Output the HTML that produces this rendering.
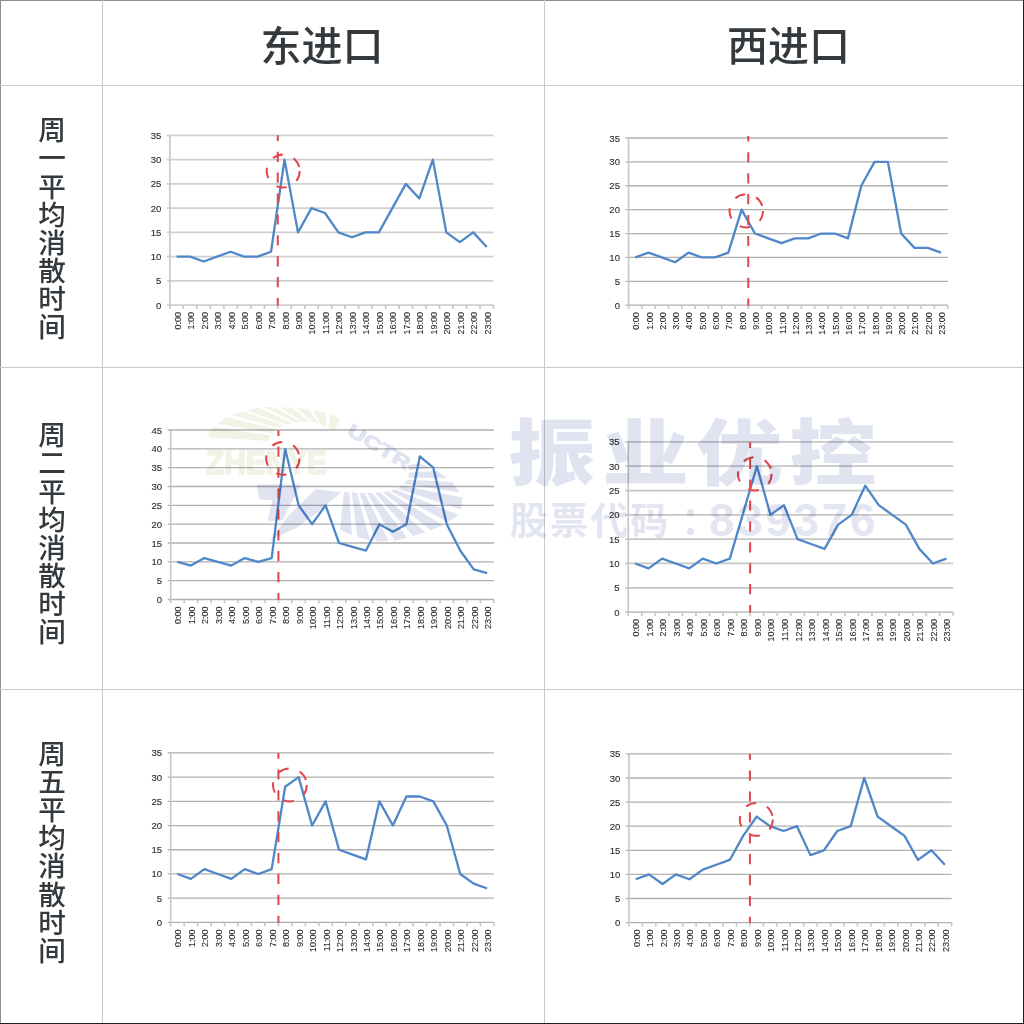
<!DOCTYPE html>
<html><head><meta charset="utf-8">
<style>
html,body{margin:0;padding:0;background:#fff;}
body{width:1024px;height:1024px;position:relative;overflow:hidden;}
.ln{position:absolute;}
.hd{position:absolute;top:18.8px;font-family:"Liberation Sans","Noto Sans CJK SC",sans-serif;font-size:41px;line-height:56px;color:#33393c;font-weight:500;white-space:nowrap;}
.rl{position:absolute;left:38px;width:28px;font-family:"Liberation Sans","Noto Sans CJK SC",sans-serif;font-size:27.6px;line-height:28.15px;color:#33393c;font-weight:500;text-align:center;}
svg{position:absolute;left:0;top:0;}
.yl{font-family:"Liberation Sans",sans-serif;font-size:9.6px;fill:#2e2e2e;stroke:#2e2e2e;stroke-width:0.12;text-anchor:end;}
.xl{font-family:"Liberation Sans",sans-serif;font-size:9px;fill:#2e2e2e;stroke:#2e2e2e;stroke-width:0.12;text-anchor:end;}
.dl{fill:none;stroke:#4f87c8;stroke-width:2.3;stroke-linejoin:round;}
.rd{fill:none;stroke:#e2454a;stroke-width:2;stroke-dasharray:10.2 10.7;stroke-dashoffset:4.5;}
.re{fill:none;stroke:#e2454a;stroke-width:2;stroke-dasharray:10.6 11.5;}
.wm{font-family:"Liberation Sans","Noto Sans CJK SC",sans-serif;font-weight:bold;fill:#d6dbec;}
</style></head><body>
<div class="ln" style="left:0;top:0;width:1024px;height:1px;background:#8a9091"></div>
<div class="ln" style="left:0;top:0;width:1px;height:1024px;background:#8a9091"></div>
<div class="ln" style="left:1023px;top:0;width:1px;height:1024px;background:#1b2123"></div>
<div class="ln" style="left:0;top:1023px;width:1024px;height:1px;background:#1b2123"></div>
<div class="ln" style="left:102px;top:0;width:1px;height:1023px;background:#cacaca"></div>
<div class="ln" style="left:544px;top:0;width:1px;height:1023px;background:#cacaca"></div>
<div class="ln" style="left:0;top:85px;width:1023px;height:1px;background:#cacaca"></div>
<div class="ln" style="left:0;top:367px;width:1023px;height:1px;background:#cacaca"></div>
<div class="ln" style="left:0;top:689px;width:1023px;height:1px;background:#cacaca"></div>
<div class="hd" style="left:260.5px">东进口</div>
<div class="hd" style="left:727px">西进口</div>
<div class="rl" style="top:117.3px">周<br>一<br>平<br>均<br>消<br>散<br>时<br>间</div>
<div class="rl" style="top:422.3px">周<br>二<br>平<br>均<br>消<br>散<br>时<br>间</div>
<div class="rl" style="top:740.8px">周<br>五<br>平<br>均<br>消<br>散<br>时<br>间</div>
<svg width="1024" height="1024" viewBox="0 0 1024 1024">
<path d="M166.90 305.10H493.50 M166.90 280.86H493.50 M166.90 256.61H493.50 M166.90 232.37H493.50 M166.90 208.13H493.50 M166.90 183.89H493.50 M166.90 159.64H493.50 M166.90 135.40H493.50" stroke="#d0d0d0" stroke-width="1.7" fill="none"/>
<path d="M169.90 135.40V308.90 M183.38 305.10v3.8 M196.87 305.10v3.8 M210.35 305.10v3.8 M223.83 305.10v3.8 M237.32 305.10v3.8 M250.80 305.10v3.8 M264.28 305.10v3.8 M277.77 305.10v3.8 M291.25 305.10v3.8 M304.73 305.10v3.8 M318.22 305.10v3.8 M331.70 305.10v3.8 M345.18 305.10v3.8 M358.67 305.10v3.8 M372.15 305.10v3.8 M385.63 305.10v3.8 M399.12 305.10v3.8 M412.60 305.10v3.8 M426.08 305.10v3.8 M439.57 305.10v3.8 M453.05 305.10v3.8 M466.53 305.10v3.8 M480.02 305.10v3.8 M493.50 305.10v3.8" stroke="#c6c6c6" stroke-width="1.6" fill="none"/>
<text x="161.30" y="308.60" class="yl">0</text>
<text x="161.30" y="284.36" class="yl">5</text>
<text x="161.30" y="260.11" class="yl">10</text>
<text x="161.30" y="235.87" class="yl">15</text>
<text x="161.30" y="211.63" class="yl">20</text>
<text x="161.30" y="187.39" class="yl">25</text>
<text x="161.30" y="163.14" class="yl">30</text>
<text x="161.30" y="138.90" class="yl">35</text>
<text transform="translate(180.64 312.10) rotate(-90) scale(1 1.06)" class="xl">0:00</text>
<text transform="translate(194.12 312.10) rotate(-90) scale(1 1.06)" class="xl">1:00</text>
<text transform="translate(207.61 312.10) rotate(-90) scale(1 1.06)" class="xl">2:00</text>
<text transform="translate(221.09 312.10) rotate(-90) scale(1 1.06)" class="xl">3:00</text>
<text transform="translate(234.58 312.10) rotate(-90) scale(1 1.06)" class="xl">4:00</text>
<text transform="translate(248.06 312.10) rotate(-90) scale(1 1.06)" class="xl">5:00</text>
<text transform="translate(261.54 312.10) rotate(-90) scale(1 1.06)" class="xl">6:00</text>
<text transform="translate(275.02 312.10) rotate(-90) scale(1 1.06)" class="xl">7:00</text>
<text transform="translate(288.51 312.10) rotate(-90) scale(1 1.06)" class="xl">8:00</text>
<text transform="translate(301.99 312.10) rotate(-90) scale(1 1.06)" class="xl">9:00</text>
<text transform="translate(315.48 312.10) rotate(-90) scale(1 1.06)" class="xl">10:00</text>
<text transform="translate(328.96 312.10) rotate(-90) scale(1 1.06)" class="xl">11:00</text>
<text transform="translate(342.44 312.10) rotate(-90) scale(1 1.06)" class="xl">12:00</text>
<text transform="translate(355.93 312.10) rotate(-90) scale(1 1.06)" class="xl">13:00</text>
<text transform="translate(369.41 312.10) rotate(-90) scale(1 1.06)" class="xl">14:00</text>
<text transform="translate(382.89 312.10) rotate(-90) scale(1 1.06)" class="xl">15:00</text>
<text transform="translate(396.38 312.10) rotate(-90) scale(1 1.06)" class="xl">16:00</text>
<text transform="translate(409.86 312.10) rotate(-90) scale(1 1.06)" class="xl">17:00</text>
<text transform="translate(423.34 312.10) rotate(-90) scale(1 1.06)" class="xl">18:00</text>
<text transform="translate(436.83 312.10) rotate(-90) scale(1 1.06)" class="xl">19:00</text>
<text transform="translate(450.31 312.10) rotate(-90) scale(1 1.06)" class="xl">20:00</text>
<text transform="translate(463.79 312.10) rotate(-90) scale(1 1.06)" class="xl">21:00</text>
<text transform="translate(477.27 312.10) rotate(-90) scale(1 1.06)" class="xl">22:00</text>
<text transform="translate(490.76 312.10) rotate(-90) scale(1 1.06)" class="xl">23:00</text>
<polyline points="176.64,256.61 190.12,256.61 203.61,261.46 217.09,256.61 230.58,251.77 244.06,256.61 257.54,256.61 271.02,251.77 284.51,159.64 297.99,232.37 311.48,208.13 324.96,212.98 338.44,232.37 351.93,237.22 365.41,232.37 378.89,232.37 392.38,208.13 405.86,183.89 419.34,198.43 432.83,159.64 446.31,232.37 459.79,242.07 473.27,232.37 486.76,246.92" class="dl"/>
<path d="M277.77 135.30V305.60" class="rd"/>
<ellipse cx="283.2" cy="171" rx="16.5" ry="16.5" class="re"/>
<path d="M625.60 305.20H947.70 M625.60 281.31H947.70 M625.60 257.43H947.70 M625.60 233.54H947.70 M625.60 209.66H947.70 M625.60 185.77H947.70 M625.60 161.89H947.70 M625.60 138.00H947.70" stroke="#b0b0b0" stroke-width="1.3" fill="none"/>
<path d="M628.60 138.00V309.00 M641.90 305.20v3.8 M655.19 305.20v3.8 M668.49 305.20v3.8 M681.78 305.20v3.8 M695.08 305.20v3.8 M708.38 305.20v3.8 M721.67 305.20v3.8 M734.97 305.20v3.8 M748.26 305.20v3.8 M761.56 305.20v3.8 M774.85 305.20v3.8 M788.15 305.20v3.8 M801.45 305.20v3.8 M814.74 305.20v3.8 M828.04 305.20v3.8 M841.33 305.20v3.8 M854.63 305.20v3.8 M867.93 305.20v3.8 M881.22 305.20v3.8 M894.52 305.20v3.8 M907.81 305.20v3.8 M921.11 305.20v3.8 M934.40 305.20v3.8 M947.70 305.20v3.8" stroke="#c6c6c6" stroke-width="1.6" fill="none"/>
<text x="620.00" y="308.70" class="yl">0</text>
<text x="620.00" y="284.81" class="yl">5</text>
<text x="620.00" y="260.93" class="yl">10</text>
<text x="620.00" y="237.04" class="yl">15</text>
<text x="620.00" y="213.16" class="yl">20</text>
<text x="620.00" y="189.27" class="yl">25</text>
<text x="620.00" y="165.39" class="yl">30</text>
<text x="620.00" y="141.50" class="yl">35</text>
<text transform="translate(639.25 312.20) rotate(-90) scale(1 1.06)" class="xl">0:00</text>
<text transform="translate(652.54 312.20) rotate(-90) scale(1 1.06)" class="xl">1:00</text>
<text transform="translate(665.84 312.20) rotate(-90) scale(1 1.06)" class="xl">2:00</text>
<text transform="translate(679.14 312.20) rotate(-90) scale(1 1.06)" class="xl">3:00</text>
<text transform="translate(692.43 312.20) rotate(-90) scale(1 1.06)" class="xl">4:00</text>
<text transform="translate(705.73 312.20) rotate(-90) scale(1 1.06)" class="xl">5:00</text>
<text transform="translate(719.02 312.20) rotate(-90) scale(1 1.06)" class="xl">6:00</text>
<text transform="translate(732.32 312.20) rotate(-90) scale(1 1.06)" class="xl">7:00</text>
<text transform="translate(745.61 312.20) rotate(-90) scale(1 1.06)" class="xl">8:00</text>
<text transform="translate(758.91 312.20) rotate(-90) scale(1 1.06)" class="xl">9:00</text>
<text transform="translate(772.21 312.20) rotate(-90) scale(1 1.06)" class="xl">10:00</text>
<text transform="translate(785.50 312.20) rotate(-90) scale(1 1.06)" class="xl">11:00</text>
<text transform="translate(798.80 312.20) rotate(-90) scale(1 1.06)" class="xl">12:00</text>
<text transform="translate(812.09 312.20) rotate(-90) scale(1 1.06)" class="xl">13:00</text>
<text transform="translate(825.39 312.20) rotate(-90) scale(1 1.06)" class="xl">14:00</text>
<text transform="translate(838.69 312.20) rotate(-90) scale(1 1.06)" class="xl">15:00</text>
<text transform="translate(851.98 312.20) rotate(-90) scale(1 1.06)" class="xl">16:00</text>
<text transform="translate(865.28 312.20) rotate(-90) scale(1 1.06)" class="xl">17:00</text>
<text transform="translate(878.57 312.20) rotate(-90) scale(1 1.06)" class="xl">18:00</text>
<text transform="translate(891.87 312.20) rotate(-90) scale(1 1.06)" class="xl">19:00</text>
<text transform="translate(905.16 312.20) rotate(-90) scale(1 1.06)" class="xl">20:00</text>
<text transform="translate(918.46 312.20) rotate(-90) scale(1 1.06)" class="xl">21:00</text>
<text transform="translate(931.76 312.20) rotate(-90) scale(1 1.06)" class="xl">22:00</text>
<text transform="translate(945.05 312.20) rotate(-90) scale(1 1.06)" class="xl">23:00</text>
<polyline points="635.25,257.43 648.54,252.65 661.84,257.43 675.14,262.21 688.43,252.65 701.73,257.43 715.02,257.43 728.32,252.65 741.61,209.66 754.91,233.54 768.21,238.32 781.50,243.10 794.80,238.32 808.09,238.32 821.39,233.54 834.69,233.54 847.98,238.32 861.28,185.77 874.57,161.89 887.87,161.89 901.16,233.54 914.46,247.87 927.76,247.87 941.05,252.65" class="dl"/>
<path d="M748.26 135.90V305.70" class="rd"/>
<ellipse cx="746.3" cy="210.9" rx="16.75" ry="16.6" class="re"/>
<path d="M167.70 599.50H493.90 M167.70 580.67H493.90 M167.70 561.83H493.90 M167.70 543.00H493.90 M167.70 524.17H493.90 M167.70 505.33H493.90 M167.70 486.50H493.90 M167.70 467.67H493.90 M167.70 448.83H493.90 M167.70 430.00H493.90" stroke="#b0b0b0" stroke-width="1.3" fill="none"/>
<path d="M170.70 430.00V603.30 M184.17 599.50v3.8 M197.63 599.50v3.8 M211.10 599.50v3.8 M224.57 599.50v3.8 M238.03 599.50v3.8 M251.50 599.50v3.8 M264.97 599.50v3.8 M278.43 599.50v3.8 M291.90 599.50v3.8 M305.37 599.50v3.8 M318.83 599.50v3.8 M332.30 599.50v3.8 M345.77 599.50v3.8 M359.23 599.50v3.8 M372.70 599.50v3.8 M386.17 599.50v3.8 M399.63 599.50v3.8 M413.10 599.50v3.8 M426.57 599.50v3.8 M440.03 599.50v3.8 M453.50 599.50v3.8 M466.97 599.50v3.8 M480.43 599.50v3.8 M493.90 599.50v3.8" stroke="#c6c6c6" stroke-width="1.6" fill="none"/>
<text x="162.10" y="603.00" class="yl">0</text>
<text x="162.10" y="584.17" class="yl">5</text>
<text x="162.10" y="565.33" class="yl">10</text>
<text x="162.10" y="546.50" class="yl">15</text>
<text x="162.10" y="527.67" class="yl">20</text>
<text x="162.10" y="508.83" class="yl">25</text>
<text x="162.10" y="490.00" class="yl">30</text>
<text x="162.10" y="471.17" class="yl">35</text>
<text x="162.10" y="452.33" class="yl">40</text>
<text x="162.10" y="433.50" class="yl">45</text>
<text transform="translate(181.43 606.50) rotate(-90) scale(1 1.06)" class="xl">0:00</text>
<text transform="translate(194.90 606.50) rotate(-90) scale(1 1.06)" class="xl">1:00</text>
<text transform="translate(208.37 606.50) rotate(-90) scale(1 1.06)" class="xl">2:00</text>
<text transform="translate(221.83 606.50) rotate(-90) scale(1 1.06)" class="xl">3:00</text>
<text transform="translate(235.30 606.50) rotate(-90) scale(1 1.06)" class="xl">4:00</text>
<text transform="translate(248.77 606.50) rotate(-90) scale(1 1.06)" class="xl">5:00</text>
<text transform="translate(262.23 606.50) rotate(-90) scale(1 1.06)" class="xl">6:00</text>
<text transform="translate(275.70 606.50) rotate(-90) scale(1 1.06)" class="xl">7:00</text>
<text transform="translate(289.17 606.50) rotate(-90) scale(1 1.06)" class="xl">8:00</text>
<text transform="translate(302.63 606.50) rotate(-90) scale(1 1.06)" class="xl">9:00</text>
<text transform="translate(316.10 606.50) rotate(-90) scale(1 1.06)" class="xl">10:00</text>
<text transform="translate(329.57 606.50) rotate(-90) scale(1 1.06)" class="xl">11:00</text>
<text transform="translate(343.03 606.50) rotate(-90) scale(1 1.06)" class="xl">12:00</text>
<text transform="translate(356.50 606.50) rotate(-90) scale(1 1.06)" class="xl">13:00</text>
<text transform="translate(369.97 606.50) rotate(-90) scale(1 1.06)" class="xl">14:00</text>
<text transform="translate(383.43 606.50) rotate(-90) scale(1 1.06)" class="xl">15:00</text>
<text transform="translate(396.90 606.50) rotate(-90) scale(1 1.06)" class="xl">16:00</text>
<text transform="translate(410.37 606.50) rotate(-90) scale(1 1.06)" class="xl">17:00</text>
<text transform="translate(423.83 606.50) rotate(-90) scale(1 1.06)" class="xl">18:00</text>
<text transform="translate(437.30 606.50) rotate(-90) scale(1 1.06)" class="xl">19:00</text>
<text transform="translate(450.77 606.50) rotate(-90) scale(1 1.06)" class="xl">20:00</text>
<text transform="translate(464.23 606.50) rotate(-90) scale(1 1.06)" class="xl">21:00</text>
<text transform="translate(477.70 606.50) rotate(-90) scale(1 1.06)" class="xl">22:00</text>
<text transform="translate(491.17 606.50) rotate(-90) scale(1 1.06)" class="xl">23:00</text>
<polyline points="177.43,561.83 190.90,565.60 204.37,558.07 217.83,561.83 231.30,565.60 244.77,558.07 258.23,561.83 271.70,558.07 285.17,448.83 298.63,505.33 312.10,524.17 325.57,505.33 339.03,543.00 352.50,546.77 365.97,550.53 379.43,524.17 392.90,531.70 406.37,524.17 419.83,456.37 433.30,467.67 446.77,524.17 460.23,550.53 473.70,569.37 487.17,573.13" class="dl"/>
<path d="M278.43 430.20V600.00" class="rd"/>
<ellipse cx="282.8" cy="458.4" rx="16.7" ry="16.4" class="re"/>
<path d="M625.30 612.10H953.20 M625.30 587.79H953.20 M625.30 563.47H953.20 M625.30 539.16H953.20 M625.30 514.84H953.20 M625.30 490.53H953.20 M625.30 466.21H953.20 M625.30 441.90H953.20" stroke="#c6c6c6" stroke-width="1.8" fill="none"/>
<path d="M628.30 441.90V615.90 M641.84 612.10v3.8 M655.38 612.10v3.8 M668.91 612.10v3.8 M682.45 612.10v3.8 M695.99 612.10v3.8 M709.52 612.10v3.8 M723.06 612.10v3.8 M736.60 612.10v3.8 M750.14 612.10v3.8 M763.67 612.10v3.8 M777.21 612.10v3.8 M790.75 612.10v3.8 M804.29 612.10v3.8 M817.83 612.10v3.8 M831.36 612.10v3.8 M844.90 612.10v3.8 M858.44 612.10v3.8 M871.98 612.10v3.8 M885.51 612.10v3.8 M899.05 612.10v3.8 M912.59 612.10v3.8 M926.12 612.10v3.8 M939.66 612.10v3.8 M953.20 612.10v3.8" stroke="#c6c6c6" stroke-width="1.6" fill="none"/>
<text x="619.70" y="615.60" class="yl">0</text>
<text x="619.70" y="591.29" class="yl">5</text>
<text x="619.70" y="566.97" class="yl">10</text>
<text x="619.70" y="542.66" class="yl">15</text>
<text x="619.70" y="518.34" class="yl">20</text>
<text x="619.70" y="494.03" class="yl">25</text>
<text x="619.70" y="469.71" class="yl">30</text>
<text x="619.70" y="445.40" class="yl">35</text>
<text transform="translate(639.07 619.10) rotate(-90) scale(1 1.06)" class="xl">0:00</text>
<text transform="translate(652.61 619.10) rotate(-90) scale(1 1.06)" class="xl">1:00</text>
<text transform="translate(666.14 619.10) rotate(-90) scale(1 1.06)" class="xl">2:00</text>
<text transform="translate(679.68 619.10) rotate(-90) scale(1 1.06)" class="xl">3:00</text>
<text transform="translate(693.22 619.10) rotate(-90) scale(1 1.06)" class="xl">4:00</text>
<text transform="translate(706.76 619.10) rotate(-90) scale(1 1.06)" class="xl">5:00</text>
<text transform="translate(720.29 619.10) rotate(-90) scale(1 1.06)" class="xl">6:00</text>
<text transform="translate(733.83 619.10) rotate(-90) scale(1 1.06)" class="xl">7:00</text>
<text transform="translate(747.37 619.10) rotate(-90) scale(1 1.06)" class="xl">8:00</text>
<text transform="translate(760.91 619.10) rotate(-90) scale(1 1.06)" class="xl">9:00</text>
<text transform="translate(774.44 619.10) rotate(-90) scale(1 1.06)" class="xl">10:00</text>
<text transform="translate(787.98 619.10) rotate(-90) scale(1 1.06)" class="xl">11:00</text>
<text transform="translate(801.52 619.10) rotate(-90) scale(1 1.06)" class="xl">12:00</text>
<text transform="translate(815.06 619.10) rotate(-90) scale(1 1.06)" class="xl">13:00</text>
<text transform="translate(828.59 619.10) rotate(-90) scale(1 1.06)" class="xl">14:00</text>
<text transform="translate(842.13 619.10) rotate(-90) scale(1 1.06)" class="xl">15:00</text>
<text transform="translate(855.67 619.10) rotate(-90) scale(1 1.06)" class="xl">16:00</text>
<text transform="translate(869.21 619.10) rotate(-90) scale(1 1.06)" class="xl">17:00</text>
<text transform="translate(882.74 619.10) rotate(-90) scale(1 1.06)" class="xl">18:00</text>
<text transform="translate(896.28 619.10) rotate(-90) scale(1 1.06)" class="xl">19:00</text>
<text transform="translate(909.82 619.10) rotate(-90) scale(1 1.06)" class="xl">20:00</text>
<text transform="translate(923.36 619.10) rotate(-90) scale(1 1.06)" class="xl">21:00</text>
<text transform="translate(936.89 619.10) rotate(-90) scale(1 1.06)" class="xl">22:00</text>
<text transform="translate(950.43 619.10) rotate(-90) scale(1 1.06)" class="xl">23:00</text>
<polyline points="635.07,563.47 648.61,568.33 662.14,558.61 675.68,563.47 689.22,568.33 702.76,558.61 716.29,563.47 729.83,558.61 743.37,512.41 756.91,466.21 770.44,514.84 783.98,505.12 797.52,539.16 811.06,544.02 824.59,548.88 838.13,524.57 851.67,514.84 865.21,485.67 878.74,505.12 892.28,514.84 905.82,524.57 919.36,548.88 932.89,563.47 946.43,558.61" class="dl"/>
<path d="M750.14 442.30V612.60" class="rd"/>
<ellipse cx="754.8" cy="473.9" rx="16.8" ry="16.6" class="re"/>
<path d="M167.70 922.40H493.90 M167.70 898.19H493.90 M167.70 873.97H493.90 M167.70 849.76H493.90 M167.70 825.54H493.90 M167.70 801.33H493.90 M167.70 777.11H493.90 M167.70 752.90H493.90" stroke="#b0b0b0" stroke-width="1.3" fill="none"/>
<path d="M170.70 752.90V926.20 M184.17 922.40v3.8 M197.63 922.40v3.8 M211.10 922.40v3.8 M224.57 922.40v3.8 M238.03 922.40v3.8 M251.50 922.40v3.8 M264.97 922.40v3.8 M278.43 922.40v3.8 M291.90 922.40v3.8 M305.37 922.40v3.8 M318.83 922.40v3.8 M332.30 922.40v3.8 M345.77 922.40v3.8 M359.23 922.40v3.8 M372.70 922.40v3.8 M386.17 922.40v3.8 M399.63 922.40v3.8 M413.10 922.40v3.8 M426.57 922.40v3.8 M440.03 922.40v3.8 M453.50 922.40v3.8 M466.97 922.40v3.8 M480.43 922.40v3.8 M493.90 922.40v3.8" stroke="#c6c6c6" stroke-width="1.6" fill="none"/>
<text x="162.10" y="925.90" class="yl">0</text>
<text x="162.10" y="901.69" class="yl">5</text>
<text x="162.10" y="877.47" class="yl">10</text>
<text x="162.10" y="853.26" class="yl">15</text>
<text x="162.10" y="829.04" class="yl">20</text>
<text x="162.10" y="804.83" class="yl">25</text>
<text x="162.10" y="780.61" class="yl">30</text>
<text x="162.10" y="756.40" class="yl">35</text>
<text transform="translate(181.43 929.40) rotate(-90) scale(1 1.06)" class="xl">0:00</text>
<text transform="translate(194.90 929.40) rotate(-90) scale(1 1.06)" class="xl">1:00</text>
<text transform="translate(208.37 929.40) rotate(-90) scale(1 1.06)" class="xl">2:00</text>
<text transform="translate(221.83 929.40) rotate(-90) scale(1 1.06)" class="xl">3:00</text>
<text transform="translate(235.30 929.40) rotate(-90) scale(1 1.06)" class="xl">4:00</text>
<text transform="translate(248.77 929.40) rotate(-90) scale(1 1.06)" class="xl">5:00</text>
<text transform="translate(262.23 929.40) rotate(-90) scale(1 1.06)" class="xl">6:00</text>
<text transform="translate(275.70 929.40) rotate(-90) scale(1 1.06)" class="xl">7:00</text>
<text transform="translate(289.17 929.40) rotate(-90) scale(1 1.06)" class="xl">8:00</text>
<text transform="translate(302.63 929.40) rotate(-90) scale(1 1.06)" class="xl">9:00</text>
<text transform="translate(316.10 929.40) rotate(-90) scale(1 1.06)" class="xl">10:00</text>
<text transform="translate(329.57 929.40) rotate(-90) scale(1 1.06)" class="xl">11:00</text>
<text transform="translate(343.03 929.40) rotate(-90) scale(1 1.06)" class="xl">12:00</text>
<text transform="translate(356.50 929.40) rotate(-90) scale(1 1.06)" class="xl">13:00</text>
<text transform="translate(369.97 929.40) rotate(-90) scale(1 1.06)" class="xl">14:00</text>
<text transform="translate(383.43 929.40) rotate(-90) scale(1 1.06)" class="xl">15:00</text>
<text transform="translate(396.90 929.40) rotate(-90) scale(1 1.06)" class="xl">16:00</text>
<text transform="translate(410.37 929.40) rotate(-90) scale(1 1.06)" class="xl">17:00</text>
<text transform="translate(423.83 929.40) rotate(-90) scale(1 1.06)" class="xl">18:00</text>
<text transform="translate(437.30 929.40) rotate(-90) scale(1 1.06)" class="xl">19:00</text>
<text transform="translate(450.77 929.40) rotate(-90) scale(1 1.06)" class="xl">20:00</text>
<text transform="translate(464.23 929.40) rotate(-90) scale(1 1.06)" class="xl">21:00</text>
<text transform="translate(477.70 929.40) rotate(-90) scale(1 1.06)" class="xl">22:00</text>
<text transform="translate(491.17 929.40) rotate(-90) scale(1 1.06)" class="xl">23:00</text>
<polyline points="177.43,873.97 190.90,878.81 204.37,869.13 217.83,873.97 231.30,878.81 244.77,869.13 258.23,873.97 271.70,869.13 285.17,786.80 298.63,777.11 312.10,825.54 325.57,801.33 339.03,849.76 352.50,854.60 365.97,859.44 379.43,801.33 392.90,825.54 406.37,796.49 419.83,796.49 433.30,801.33 446.77,825.54 460.23,873.97 473.70,883.66 487.17,888.50" class="dl"/>
<path d="M278.43 753.00V922.90" class="rd"/>
<ellipse cx="289.9" cy="785" rx="16.9" ry="16.5" class="re"/>
<path d="M625.90 922.60H951.60 M625.90 898.50H951.60 M625.90 874.40H951.60 M625.90 850.30H951.60 M625.90 826.20H951.60 M625.90 802.10H951.60 M625.90 778.00H951.60 M625.90 753.90H951.60" stroke="#b0b0b0" stroke-width="1.3" fill="none"/>
<path d="M628.90 753.90V926.40 M642.35 922.60v3.8 M655.79 922.60v3.8 M669.24 922.60v3.8 M682.68 922.60v3.8 M696.13 922.60v3.8 M709.58 922.60v3.8 M723.02 922.60v3.8 M736.47 922.60v3.8 M749.91 922.60v3.8 M763.36 922.60v3.8 M776.80 922.60v3.8 M790.25 922.60v3.8 M803.70 922.60v3.8 M817.14 922.60v3.8 M830.59 922.60v3.8 M844.03 922.60v3.8 M857.48 922.60v3.8 M870.92 922.60v3.8 M884.37 922.60v3.8 M897.82 922.60v3.8 M911.26 922.60v3.8 M924.71 922.60v3.8 M938.15 922.60v3.8 M951.60 922.60v3.8" stroke="#c6c6c6" stroke-width="1.6" fill="none"/>
<text x="620.30" y="926.10" class="yl">0</text>
<text x="620.30" y="902.00" class="yl">5</text>
<text x="620.30" y="877.90" class="yl">10</text>
<text x="620.30" y="853.80" class="yl">15</text>
<text x="620.30" y="829.70" class="yl">20</text>
<text x="620.30" y="805.60" class="yl">25</text>
<text x="620.30" y="781.50" class="yl">30</text>
<text x="620.30" y="757.40" class="yl">35</text>
<text transform="translate(639.62 929.60) rotate(-90) scale(1 1.06)" class="xl">0:00</text>
<text transform="translate(653.07 929.60) rotate(-90) scale(1 1.06)" class="xl">1:00</text>
<text transform="translate(666.51 929.60) rotate(-90) scale(1 1.06)" class="xl">2:00</text>
<text transform="translate(679.96 929.60) rotate(-90) scale(1 1.06)" class="xl">3:00</text>
<text transform="translate(693.41 929.60) rotate(-90) scale(1 1.06)" class="xl">4:00</text>
<text transform="translate(706.85 929.60) rotate(-90) scale(1 1.06)" class="xl">5:00</text>
<text transform="translate(720.30 929.60) rotate(-90) scale(1 1.06)" class="xl">6:00</text>
<text transform="translate(733.74 929.60) rotate(-90) scale(1 1.06)" class="xl">7:00</text>
<text transform="translate(747.19 929.60) rotate(-90) scale(1 1.06)" class="xl">8:00</text>
<text transform="translate(760.64 929.60) rotate(-90) scale(1 1.06)" class="xl">9:00</text>
<text transform="translate(774.08 929.60) rotate(-90) scale(1 1.06)" class="xl">10:00</text>
<text transform="translate(787.53 929.60) rotate(-90) scale(1 1.06)" class="xl">11:00</text>
<text transform="translate(800.97 929.60) rotate(-90) scale(1 1.06)" class="xl">12:00</text>
<text transform="translate(814.42 929.60) rotate(-90) scale(1 1.06)" class="xl">13:00</text>
<text transform="translate(827.86 929.60) rotate(-90) scale(1 1.06)" class="xl">14:00</text>
<text transform="translate(841.31 929.60) rotate(-90) scale(1 1.06)" class="xl">15:00</text>
<text transform="translate(854.76 929.60) rotate(-90) scale(1 1.06)" class="xl">16:00</text>
<text transform="translate(868.20 929.60) rotate(-90) scale(1 1.06)" class="xl">17:00</text>
<text transform="translate(881.65 929.60) rotate(-90) scale(1 1.06)" class="xl">18:00</text>
<text transform="translate(895.09 929.60) rotate(-90) scale(1 1.06)" class="xl">19:00</text>
<text transform="translate(908.54 929.60) rotate(-90) scale(1 1.06)" class="xl">20:00</text>
<text transform="translate(921.99 929.60) rotate(-90) scale(1 1.06)" class="xl">21:00</text>
<text transform="translate(935.43 929.60) rotate(-90) scale(1 1.06)" class="xl">22:00</text>
<text transform="translate(948.88 929.60) rotate(-90) scale(1 1.06)" class="xl">23:00</text>
<polyline points="635.62,879.22 649.07,874.40 662.51,884.04 675.96,874.40 689.41,879.22 702.85,869.58 716.30,864.76 729.74,859.94 743.19,835.84 756.64,816.56 770.08,826.20 783.53,831.02 796.97,826.20 810.42,855.12 823.86,850.30 837.31,831.02 850.76,826.20 864.20,778.00 877.65,816.56 891.09,826.20 904.54,835.84 917.99,859.94 931.43,850.30 944.88,864.76" class="dl"/>
<path d="M749.91 754.10V923.10" class="rd"/>
<ellipse cx="756.3" cy="819.4" rx="16.5" ry="16.4" class="re"/>
<g style="mix-blend-mode:multiply" fill="#f0f3e6">
<polygon points="268.0,441.0 270.8,435.4 213.1,426.6 207.0,437.0"/><polygon points="271.9,433.2 276.7,429.3 226.8,417.2 216.5,423.5"/><polygon points="278.6,427.8 284.1,425.2 242.4,411.6 230.8,414.7"/><polygon points="286.5,424.5 292.5,422.9 258.7,407.8 247.0,410.5"/><polygon points="294.9,422.3 301.1,422.0 275.4,407.4 263.3,407.0"/><polygon points="303.5,422.0 309.8,422.0 292.2,407.8 280.1,407.5"/><polygon points="312.2,422.1 318.2,423.8 308.8,409.6 296.9,407.9"/><polygon points="320.5,424.4 326.5,426.3 325.3,412.5 313.5,410.4"/><polygon points="328.6,427.5 333.9,430.8 340.7,419.0 329.8,413.9"/>
<text x="206" y="473.5" font-family="'Liberation Sans',sans-serif" font-weight="bold" font-size="33" stroke="#f0f3e6" stroke-width="1.6" textLength="121" lengthAdjust="spacingAndGlyphs">ZHENYE</text>
</g>
<g style="mix-blend-mode:multiply" fill="#e0e3f0">
<polygon points="344.0,492.0 349.3,492.4 351.8,535.2 340.0,530.0"/><polygon points="351.7,492.6 357.0,492.9 370.0,540.2 357.4,537.3"/><polygon points="359.5,493.0 364.7,493.0 388.6,541.0 375.9,541.5"/><polygon points="367.2,493.0 372.5,493.0 407.2,537.8 394.6,540.5"/><polygon points="375.0,492.8 380.2,492.4 425.2,532.2 413.0,536.1"/><polygon points="382.7,492.2 387.9,491.5 442.8,525.3 430.9,530.2"/><polygon points="390.3,490.8 395.4,489.4 458.4,515.0 447.9,522.2"/><polygon points="397.6,488.5 401.8,485.4 462.2,497.6 460.6,509.4"/><polygon points="403.8,483.9 406.9,479.7 452.2,481.9 459.4,492.3"/><polygon points="408.1,477.6 409.0,472.5 437.0,470.7 447.3,478.3"/><polygon points="409.0,470.0 407.1,465.2 419.6,463.3 431.5,468.2"/><polygon points="256.8,484.6 300.8,484.6 282.2,520.8 267.6,520.8 272.5,500.3 259.3,499.3"/><polygon points="269.5,540.5 290.0,514.0 316.0,489.0 341.0,492.6 318.0,512.0 296.0,528.0"/>
<text transform="translate(346 434) rotate(31)" font-family="'Liberation Sans',sans-serif" font-weight="bold" font-size="18" stroke="#e0e3f0" stroke-width="1" textLength="70" lengthAdjust="spacingAndGlyphs">UCTR</text>
<text transform="translate(0 479) scale(1 0.825)" font-family="'Liberation Sans','Noto Sans CJK SC',sans-serif" font-weight="900" font-size="86.7" letter-spacing="7.0" x="508.5" y="0">振业优控</text>
<text fill="#e3e5f1" font-family="'Liberation Sans','Noto Sans CJK SC',sans-serif" font-weight="bold" font-size="38" y="533.5"><tspan x="510" letter-spacing="2.1">股票代码</tspan><tspan x="681">：</tspan><tspan x="709" font-size="46" letter-spacing="2.6" dy="2.8">839376</tspan></text>
</g>
</svg>
</body></html>
